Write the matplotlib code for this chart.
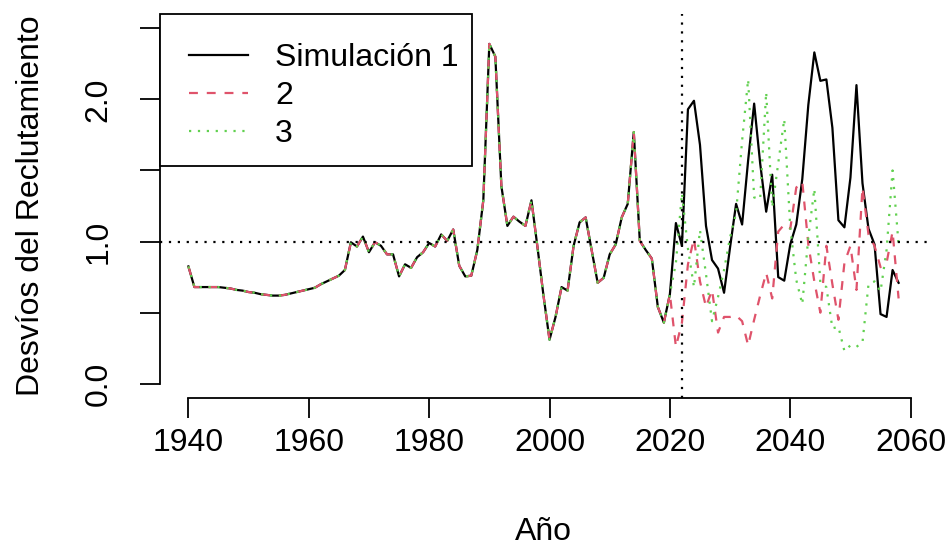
import numpy as np
import matplotlib
matplotlib.use("Agg")
import matplotlib.pyplot as plt
from matplotlib.patches import Rectangle

plt.rcParams['font.family'] = ['Liberation Sans', 'DejaVu Sans']

# observed recruitment deviations, common to all simulations (1940-2020)
hist_years = np.arange(1940, 2021)
hist_dev = [0.825, 0.68, 0.68, 0.68, 0.68, 0.68, 0.675, 0.67, 0.66, 0.655,
            0.645, 0.64, 0.63, 0.625, 0.62, 0.62, 0.625, 0.635, 0.645, 0.655,
            0.665, 0.675, 0.70, 0.72, 0.74, 0.76, 0.80, 0.995, 0.965, 1.035,
            0.925, 0.995, 0.97, 0.91, 0.91, 0.755, 0.84, 0.815, 0.89, 0.925,
            0.99, 0.965, 1.05, 1.005, 1.085, 0.83, 0.755, 0.76, 0.94, 1.29,
            2.39, 2.30, 1.39, 1.11, 1.175, 1.14, 1.11, 1.29, 0.96, 0.62,
            0.31, 0.47, 0.68, 0.655, 0.97, 1.135, 1.17, 0.94, 0.71, 0.745,
            0.91, 0.98, 1.17, 1.265, 1.77, 1.005, 0.94, 0.88, 0.54, 0.43,
            0.63]

# projections 2021-2058
proj_years = np.arange(2021, 2059)
sim1 = [1.13, 0.97, 1.93, 1.99, 1.68, 1.11, 0.87, 0.81, 0.64, 0.96,
        1.265, 1.12, 1.57, 1.97, 1.55, 1.21, 1.47, 0.75, 0.725, 0.98,
        1.12, 1.44, 1.96, 2.33, 2.13, 2.14, 1.80, 1.15, 1.10, 1.45,
        2.10, 1.41, 1.09, 0.98, 0.49, 0.47, 0.80, 0.71]
sim2 = [0.26, 0.43, 0.84, 1.02, 0.72, 0.54, 0.66, 0.36, 0.47, 0.47,
        0.48, 0.44, 0.27, 0.45, 0.62, 0.78, 0.60, 1.07, 1.12, 1.09,
        1.38, 1.42, 0.98, 0.72, 0.50, 0.97, 0.70, 0.45, 0.85, 0.97,
        0.66, 1.38, 1.05, 0.97, 0.82, 0.85, 1.07, 0.60]
sim3 = [0.85, 1.34, 0.95, 0.68, 1.08, 0.77, 0.44, 0.61, 0.80, 1.03,
        1.20, 1.71, 2.14, 1.31, 1.30, 2.05, 1.24, 1.55, 1.86, 1.10,
        0.73, 0.56, 1.03, 1.37, 0.71, 0.68, 0.39, 0.40, 0.23, 0.27,
        0.26, 0.29, 0.70, 0.72, 0.65, 0.94, 1.50, 0.98]

labels = ['Simulación 1', '2', '3']
colors = ['#000000', '#DF536B', '#61D04F']
end_obs = 2022

years = np.concatenate([hist_years, proj_years])
series = [np.concatenate([hist_dev, s]) for s in (sim1, sim2, sim3)]

fig = plt.figure(figsize=(9.5, 5.46), dpi=100)
ax = fig.add_axes([160/950, 1 - 398/546, (927 - 160)/950, (398 - 14)/546])

lw = 1.6
ax.plot(years, series[0], color=colors[0], lw=lw, label=labels[0])
ax.plot(years, series[1], color=colors[1], lw=lw, dashes=(4, 4), label=labels[1])
ax.plot(years, series[2], color=colors[2], lw=lw, dashes=(1, 3), label=labels[2])

ax.axhline(1.0, color='black', lw=lw, dashes=(1, 3))
ax.axvline(end_obs, color='black', lw=lw, dashes=(1, 3))

ax.set_xlim(1935.28, 2062.72)
ax.set_ylim(-0.1, 2.6)

ax.set_xticks(np.arange(1940, 2061, 20))
ax.set_yticks(np.arange(0, 2.51, 0.5))
ax.set_yticklabels(['0.0', '', '1.0', '', '2.0', ''])

for s in ['top', 'right']:
    ax.spines[s].set_visible(False)
ax.spines['left'].set_bounds(0, 2.5)
ax.spines['bottom'].set_bounds(1940, 2060)
ax.spines['left'].set_linewidth(1.3)
ax.spines['bottom'].set_linewidth(1.3)

fs = 23
ax.tick_params(axis='both', length=14.4, width=1.3, labelsize=fs)
ax.tick_params(axis='x', pad=7)
ax.tick_params(axis='y', pad=19)
for t in ax.get_yticklabels():
    t.set_rotation(90)
    t.set_va('center')

ax.set_xlabel('Año', fontsize=fs, labelpad=43)
ax.set_ylabel('Desvíos del Reclutamiento', fontsize=fs, labelpad=27)

# legend box like R's: drawn separately so it is not symmetric
ax.add_patch(Rectangle((0, 0.604), 0.4068, 0.396, transform=ax.transAxes,
                       facecolor='white', edgecolor='black', lw=1.3,
                       zorder=4, clip_on=False))
leg = ax.legend(loc='upper left', bbox_to_anchor=(0, 1), borderaxespad=0,
                frameon=False, fontsize=fs, handlelength=1.85,
                handletextpad=0.85, borderpad=0.9, labelspacing=0.25)
leg.set_zorder(5)

fig.savefig('out.png', dpi=100)
